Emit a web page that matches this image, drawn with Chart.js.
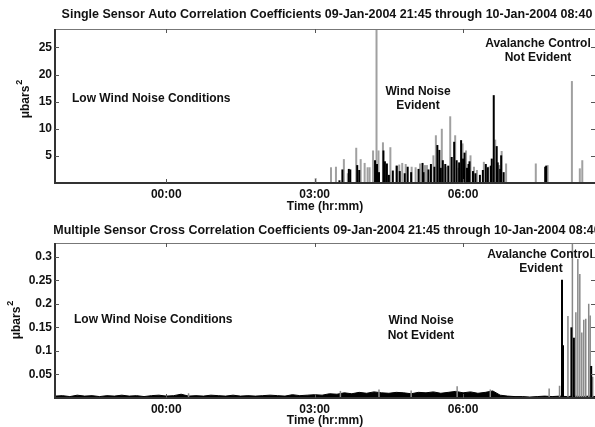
<!DOCTYPE html>
<html>
<head>
<meta charset="utf-8">
<script src="https://cdn.jsdelivr.net/npm/chart.js@4.4.1/dist/chart.umd.min.js"></script>
<style>
  html, body { margin: 0; padding: 0; background: #fff; }
  #wrap { position: relative; width: 595px; height: 427px; }
  canvas { position: absolute; left: 0; top: 0; }
</style>
</head>
<body>
<div id="wrap">
  <canvas id="autoChart" width="595" height="427"></canvas>
  <canvas id="crossChart" width="595" height="427"></canvas>
</div>
<script>
// time axis: hours from midnight, 09-Jan 21:45 through 10-Jan 08:40
var timeMin = -2.25, timeMax = 8.667;
var timeTicks = [0, 3, 6];
var timeLabels = ['00:00', '03:00', '06:00'];

var autoTicks = [5, 10, 15, 20, 25];
var autoTickLabels = ['5', '10', '15', '20', '25'];
var crossTicks = [0.05, 0.1, 0.15, 0.2, 0.25, 0.3];
var crossTickLabels = ['0.05', '0.1', '0.15', '0.2', '0.25', '0.3'];

// single sensor auto correlation (grey and black spikes)
var autoGreyTimes = [3.02, 3.33, 3.43, 3.59, 3.67, 3.84, 3.93, 4.01, 4.07, 4.11, 4.18, 4.25, 4.29, 4.38, 4.53, 4.65,
  4.71, 4.77, 4.84, 4.96, 5.04, 5.13, 5.23, 5.27, 5.40, 5.45, 5.57, 5.65, 5.74, 5.84, 5.91, 5.99, 6.06, 6.15, 6.22,
  6.28, 6.42, 6.51, 6.65, 6.73, 6.78, 6.87, 7.47, 7.71, 8.20, 8.36, 8.41];
var autoGreyValues = [0.9, 2.9, 3.0, 4.4, 1.8, 6.5, 4.4, 3.7, 2.9, 2.9, 6.0, 30, 6.0, 7.5, 6.6, 3.2,
  3.4, 3.7, 3.5, 3.0, 2.9, 3.6, 3.3, 3.3, 5.1, 8.8, 10.0, 3.0, 12.3, 8.8, 2.8, 7.3, 6.0, 5.1, 3.0,
  2.4, 3.9, 3.0, 8.0, 3.3, 5.9, 3.6, 3.6, 3.3, 18.8, 2.7, 4.2];
var autoBlackTimes = [3.50, 3.56, 3.69, 3.72, 3.86, 3.90, 4.22, 4.26, 4.30, 4.39, 4.42, 4.46, 4.50, 4.58, 4.66, 4.72,
  4.82, 4.88, 4.95, 5.10, 5.18, 5.20, 5.30, 5.35, 5.42, 5.48, 5.52, 5.55, 5.59, 5.64, 5.70, 5.77, 5.82, 5.87, 5.92,
  5.96, 6.00, 6.03, 6.08, 6.11, 6.13, 6.20, 6.25, 6.34, 6.40, 6.46, 6.50, 6.56, 6.58, 6.62, 6.68, 6.70, 6.75, 6.77,
  6.82, 7.66, 7.68];
var autoBlackValues = [0.5, 2.5, 2.6, 2.5, 3.3, 2.4, 4.2, 3.5, 2.0, 6.0, 4.0, 3.6, 1.5, 2.3, 3.2, 2.2,
  1.8, 3.0, 2.0, 2.6, 3.7, 2.0, 2.5, 3.5, 3.0, 7.0, 6.1, 2.8, 4.2, 3.5, 3.2, 4.8, 7.6, 4.2, 3.8,
  7.9, 4.5, 5.6, 2.8, 3.5, 4.0, 2.2, 1.8, 1.5, 2.4, 3.5, 2.9, 3.2, 4.5, 16.2, 6.8, 3.8, 2.6, 5.1,
  2.0, 3.0, 3.2];

// multiple sensor cross correlation: low background level plus spikes
var crossNoiseTimes = [-2.25, -2.1, -1.95, -1.8, -1.65, -1.5, -1.35, -1.2, -1.05, -0.9, -0.75, -0.6, -0.45, -0.3, -0.15,
  0, 0.15, 0.3, 0.45, 0.6, 0.75, 0.9, 1.05, 1.2, 1.35, 1.5, 1.65, 1.8, 1.95, 2.1, 2.25, 2.4, 2.55, 2.7, 2.85,
  3.0, 3.15, 3.3, 3.45, 3.6, 3.75, 3.9, 4.05, 4.2, 4.35, 4.5, 4.65, 4.8, 4.95, 5.1, 5.25, 5.4, 5.55, 5.7, 5.85,
  6.0, 6.15, 6.3, 6.45, 6.6, 6.75, 6.9, 7.05, 7.2, 7.35, 7.5, 7.65, 7.8, 7.95, 8.1, 8.25, 8.4, 8.55, 8.667];
var crossNoiseValues = [0.004, 0.005, 0.003, 0.006, 0.004, 0.005, 0.003, 0.005, 0.004, 0.006, 0.004, 0.005, 0.003, 0.005, 0.006,
  0.004, 0.005, 0.008, 0.004, 0.005, 0.004, 0.006, 0.005, 0.004, 0.006, 0.004, 0.005, 0.004, 0.005, 0.006, 0.005, 0.004, 0.007, 0.005, 0.006,
  0.007, 0.006, 0.009, 0.008, 0.011, 0.009, 0.012, 0.010, 0.013, 0.011, 0.010, 0.012, 0.011, 0.009, 0.012, 0.011, 0.013, 0.010, 0.012, 0.014,
  0.011, 0.013, 0.010, 0.012, 0.015, 0.006, 0.004, 0.003, 0.003, 0.002, 0.003, 0.004, 0.003, 0.004, 0.003, 0.004, 0.003, 0.004, 0.003];
var crossGreyTimes = [0.45, 3.52, 4.30, 4.95, 5.88, 6.55, 7.74, 7.95, 8.12, 8.21, 8.23, 8.28, 8.32, 8.36, 8.40, 8.44, 8.48, 8.54, 8.57, 8.62];
var crossGreyValues = [0.010, 0.015, 0.018, 0.016, 0.025, 0.018, 0.020, 0.026, 0.174, 0.40, 0.107, 0.182, 0.295, 0.263, 0.139, 0.166, 0.168, 0.200, 0.175, 0.045];
var crossBlackTimes = [8.00, 8.02, 8.19, 8.24, 8.59];
var crossBlackValues = [0.251, 0.112, 0.150, 0.128, 0.068];

var autoTitle = 'Single Sensor Auto Correlation Coefficients 09-Jan-2004 21:45 through 10-Jan-2004 08:40';
var crossTitle = 'Multiple Sensor Cross Correlation Coefficients 09-Jan-2004 21:45 through 10-Jan-2004 08:40';

var FONT = '"Liberation Sans", Arial, Helvetica, sans-serif';

function points(times, values) {
  return times.map(function (t, i) { return { x: t, y: values[i] }; });
}

// frame, inward ticks and the free text of one panel
function panelDecor(p) {
  return {
    id: 'panelDecor',
    afterDraw: function (chart) {
      var ctx = chart.ctx, a = chart.chartArea;
      var xs = chart.scales.x, ys = chart.scales.y;
      ctx.save();
      ctx.strokeStyle = '#777';
      ctx.lineWidth = 1;
      ctx.strokeRect(a.left + 0.5, a.top + 0.5, a.right - a.left, a.bottom - a.top);
      ctx.strokeStyle = '#333';
      ctx.lineWidth = 2;
      ctx.beginPath();
      ctx.moveTo(a.left, a.top);
      ctx.lineTo(a.left, a.bottom);
      ctx.lineTo(a.right, a.bottom);
      ctx.stroke();

      ctx.strokeStyle = '#555';
      ctx.lineWidth = 1;
      ctx.beginPath();
      timeTicks.forEach(function (v) {
        var x = Math.round(xs.getPixelForValue(v)) + 0.5;
        ctx.moveTo(x, a.top); ctx.lineTo(x, a.top + 4);
        ctx.moveTo(x, a.bottom); ctx.lineTo(x, a.bottom - 4);
      });
      p.yTicks.forEach(function (v) {
        var y = Math.round(ys.getPixelForValue(v)) + 0.5;
        ctx.moveTo(a.left, y); ctx.lineTo(a.left + 4, y);
        ctx.moveTo(a.right, y); ctx.lineTo(a.right - 4, y);
      });
      ctx.stroke();

      ctx.fillStyle = '#111';
      ctx.textBaseline = 'middle';

      // title, sized so the first panel title is ~531px wide
      ctx.font = 'bold 11px ' + FONT;
      var tsize = 11 * 531 / ctx.measureText(autoTitle).width;
      ctx.font = 'bold ' + tsize.toFixed(2) + 'px ' + FONT;
      ctx.textAlign = 'center';
      ctx.fillText(p.title, 327, p.titleY);

      ctx.font = 'bold 12px ' + FONT;
      ctx.fillText('Time (hr:mm)', 325, p.xTitleY);

      p.notes.forEach(function (n) {
        ctx.textAlign = n.align;
        ctx.fillText(n.text, n.x, n.y);
      });

      // y title with superscript
      ctx.translate(p.yTitleX, p.yTitleY);
      ctx.rotate(-Math.PI / 2);
      ctx.font = 'bold 12px ' + FONT;
      var w = ctx.measureText('\u03bcbars').width;
      ctx.textAlign = 'left';
      ctx.fillText('\u03bcbars', -w / 2, 0);
      ctx.font = 'bold 9px ' + FONT;
      ctx.fillText('2', w / 2 + 1, -6);
      ctx.restore();
    }
  };
}

function tickFont() {
  return { family: FONT, size: 12, weight: 'bold' };
}

function makeChart(id, cfg) {
  return new Chart(document.getElementById(id).getContext('2d'), {
    type: 'bar',
    data: { datasets: cfg.datasets },
    options: {
      responsive: false,
      animation: false,
      events: [],
      layout: { padding: { top: cfg.top, bottom: 427 - cfg.bottom - 20, left: 0, right: 0 } },
      datasets: { bar: { grouped: false, categoryPercentage: 1, barPercentage: 40 } },
      scales: {
        x: {
          type: 'linear', min: timeMin, max: timeMax, offset: false,
          afterBuildTicks: function (s) { s.ticks = timeTicks.map(function (v) { return { value: v }; }); },
          afterFit: function (s) { s.height = 20; },
          grid: { display: false, drawTicks: false }, border: { display: false },
          ticks: {
            autoSkip: false, maxRotation: 0, padding: 4, color: '#111', font: tickFont(),
            callback: function (v) { return timeLabels[timeTicks.indexOf(v)]; }
          }
        },
        y: {
          min: cfg.yMin, max: cfg.yMax,
          afterBuildTicks: function (s) { s.ticks = cfg.yTicks.map(function (v) { return { value: v }; }); },
          afterFit: function (s) { s.width = 55; },
          grid: { display: false, drawTicks: false }, border: { display: false },
          ticks: {
            padding: 3, color: '#111', font: tickFont(),
            callback: function (v) { return cfg.yLabels[cfg.yTicks.indexOf(v)]; }
          }
        }
      },
      plugins: { legend: { display: false }, tooltip: { enabled: false }, title: { display: false } }
    },
    plugins: [panelDecor(cfg)]
  });
}

makeChart('autoChart', {
  top: 29, bottom: 183, yMin: 0, yMax: 28.4,
  yTicks: autoTicks, yLabels: autoTickLabels,
  title: autoTitle, titleY: 15, xTitleY: 207,
  yTitleX: 26, yTitleY: 102,
  notes: [
    { text: 'Low Wind Noise Conditions', x: 72, y: 99, align: 'left' },
    { text: 'Wind Noise', x: 418, y: 92, align: 'center' },
    { text: 'Evident', x: 418, y: 106, align: 'center' },
    { text: 'Avalanche Control', x: 538, y: 44, align: 'center' },
    { text: 'Not Evident', x: 538, y: 58, align: 'center' }
  ],
  datasets: [
    { data: points(autoBlackTimes, autoBlackValues), backgroundColor: '#000', maxBarThickness: 2 },
    { data: points(autoGreyTimes, autoGreyValues), backgroundColor: '#a0a0a0', maxBarThickness: 2 }
  ]
});

makeChart('crossChart', {
  top: 243, bottom: 398, yMin: 0, yMax: 0.329,
  yTicks: crossTicks, yLabels: crossTickLabels,
  title: crossTitle, titleY: 231, xTitleY: 421,
  yTitleX: 17, yTitleY: 323,
  notes: [
    { text: 'Low Wind Noise Conditions', x: 74, y: 320, align: 'left' },
    { text: 'Wind Noise', x: 421, y: 321, align: 'center' },
    { text: 'Not Evident', x: 421, y: 336, align: 'center' },
    { text: 'Avalanche Control', x: 540, y: 255, align: 'center' },
    { text: 'Evident', x: 541, y: 269, align: 'center' }
  ],
  datasets: [
    { data: points(crossBlackTimes, crossBlackValues), backgroundColor: '#000', maxBarThickness: 2 },
    { data: points(crossGreyTimes, crossGreyValues), backgroundColor: '#888', maxBarThickness: 1.5 },
    { type: 'line', data: points(crossNoiseTimes, crossNoiseValues), borderColor: '#000', borderWidth: 1,
      backgroundColor: '#000', fill: 'origin', pointRadius: 0, tension: 0 }
  ]
});
</script>
</body>
</html>
